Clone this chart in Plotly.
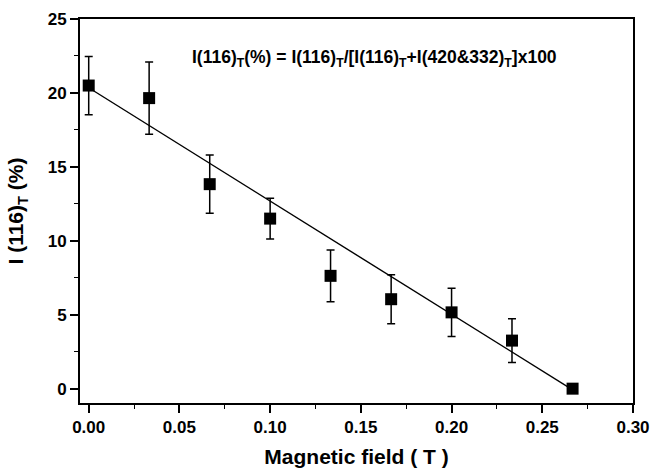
import plotly.graph_objects as go

field_T = [0.0, 0.0333, 0.0667, 0.1, 0.1333, 0.1667, 0.2, 0.2333, 0.2667]
intensity_pct = [20.5, 19.65, 13.83, 11.5, 7.63, 6.05, 5.16, 3.25, 0.0]
err_pct = [1.97, 2.45, 1.97, 1.38, 1.75, 1.66, 1.63, 1.48, 0.0]

fit_x = [0.0, 0.2663]
fit_y = [20.35, -0.05]

x_ticks = [0.0, 0.05, 0.10, 0.15, 0.20, 0.25, 0.30]
y_ticks = [0, 5, 10, 15, 20, 25]

FONT = "Liberation Sans, Arial, Helvetica, sans-serif"

fig = go.Figure()
fig.add_trace(go.Scatter(x=fit_x, y=fit_y, mode="lines",
                         line=dict(color="black", width=1.4), showlegend=False))
fig.add_trace(go.Scatter(
    x=field_T, y=intensity_pct, mode="markers",
    marker=dict(symbol="square", size=12, color="black"),
    error_y=dict(type="data", array=err_pct, visible=True, color="black",
                 thickness=1.5, width=4),
    showlegend=False))

fig.add_annotation(
    x=0.1575, y=22.36, xref="x", yref="y", showarrow=False,
    text="<b>I(116)<sub>T</sub>(%) = I(116)<sub>T</sub>/[I(116)<sub>T</sub>+I(420&amp;332)<sub>T</sub>]x100</b>",
    font=dict(family=FONT, size=17.5, color="black"))

axis_common = dict(
    showline=True, linecolor="black", linewidth=2, mirror=True,
    ticks="outside", ticklen=8, tickwidth=1.6, tickcolor="black",
    showgrid=False, zeroline=False,
    tickfont=dict(family=FONT, size=17, color="black"),
)

fig.update_xaxes(
    range=[-0.0048, 0.3], tickvals=x_ticks,
    ticktext=["<b>%.2f</b>" % v for v in x_ticks],
    minor=dict(ticks="outside", ticklen=4, tickwidth=1.4, tickcolor="black", dtick=0.025, tick0=0),
    title=dict(text="<b>Magnetic field ( T )</b>", font=dict(family=FONT, size=21, color="black"),
               standoff=13),
    **axis_common)
fig.update_yaxes(
    range=[-0.97, 25], tickvals=y_ticks,
    ticktext=["<b>%d</b>" % v for v in y_ticks],
    minor=dict(ticks="outside", ticklen=4, tickwidth=1.4, tickcolor="black", dtick=2.5, tick0=0),
    title=dict(text="<b>I (116)<sub>T</sub> (%)</b>", font=dict(family=FONT, size=21, color="black"),
               standoff=18),
    **axis_common)

fig.update_layout(
    width=654, height=469,
    margin=dict(l=80, r=21, t=19, b=66, autoexpand=False),
    paper_bgcolor="white", plot_bgcolor="white",
)

fig.write_html("out.html")
